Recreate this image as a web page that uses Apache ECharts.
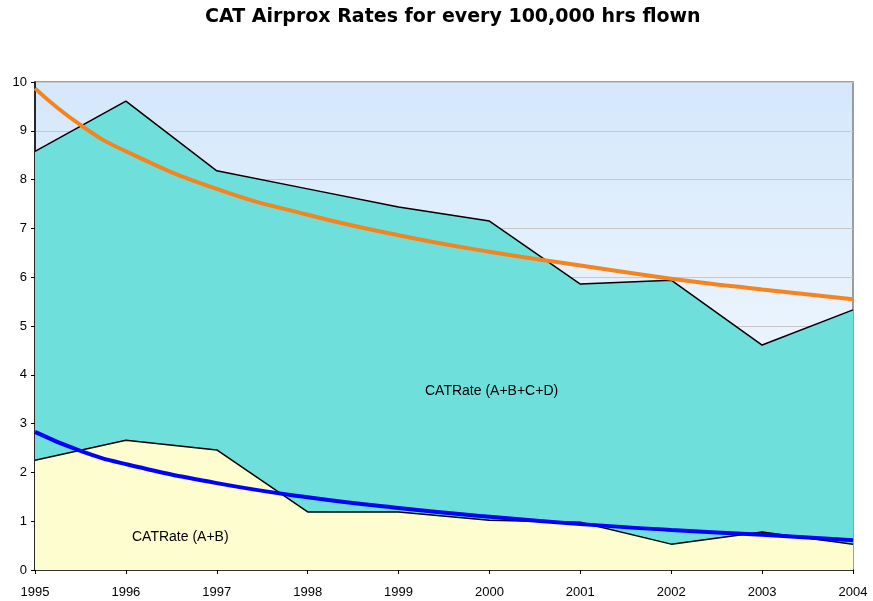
<!DOCTYPE html>
<html>
<head>
<meta charset="utf-8">
<script src="https://cdn.jsdelivr.net/npm/echarts@6/dist/echarts.min.js"></script>
<style>
  html, body { margin: 0; padding: 0; background: #fff; }
  #chart { width: 873px; height: 601px; }
</style>
</head>
<body>
<div id="chart"></div>
<script>
// data
var years = [1995, 1996, 1997, 1998, 1999, 2000, 2001, 2002, 2003, 2004];
var rateABCD = [8.58, 9.61, 8.18, 7.81, 7.44, 7.15, 5.86, 5.94, 4.61, 5.33];
var rateAB = [2.25, 2.66, 2.46, 1.19, 1.19, 1.02, 0.98, 0.53, 0.78, 0.53];
// trend lines, read at each year (plus the steep first half-year)
var trendYears = [1995, 1995.5, 1996, 1997, 1998, 1999, 2000, 2001, 2002, 2003, 2004];
var trendABCD = [9.87, 9.12, 8.58, 7.81, 7.28, 6.86, 6.52, 6.24, 5.97, 5.75, 5.55];
var trendAB = [2.83, 2.44, 2.17, 1.78, 1.49, 1.27, 1.09, 0.94, 0.82, 0.72, 0.61];
var yTicks = [0, 1, 2, 3, 4, 5, 6, 7, 8, 9, 10];

function pairs(xs, ys) {
    return xs.map(function (x, i) { return [x, ys[i]]; });
}

var myChart = echarts.init(document.getElementById('chart'));

option = {
    animation: false,
    textStyle: { fontFamily: 'Liberation Sans, Arial, sans-serif' },
    title: {
        text: 'CAT Airprox Rates for every 100,000 hrs flown',
        left: 200,
        top: 3,
        textStyle: { fontSize: 19, fontWeight: 'bold', color: '#000', fontFamily: 'DejaVu Sans' }
    },
    grid: {
        left: 35, right: 20, top: 82, bottom: 31,
        show: true,
        borderColor: '#808080',
        borderWidth: 1.5,
        backgroundColor: new echarts.graphic.LinearGradient(0, 0, 0, 1, [
            { offset: 0, color: '#d4e7fb' },
            { offset: 1, color: '#ffffff' }
        ])
    },
    xAxis: {
        type: 'value',
        min: 1995, max: 2004, interval: 1,
        axisLine: { lineStyle: { color: '#000', width: 1.5 } },
        axisTick: { show: true, length: 4, lineStyle: { color: '#000' } },
        axisLabel: { color: '#000', fontSize: 13, margin: 16, formatter: function (v) { return String(v); } },
        splitLine: { show: false }
    },
    yAxis: {
        type: 'value',
        min: yTicks[0], max: yTicks[yTicks.length - 1], interval: 1,
        axisLine: { show: true, lineStyle: { color: '#000', width: 1.5 } },
        axisTick: { show: true, length: 4, lineStyle: { color: '#000' } },
        axisLabel: { color: '#000', fontSize: 13, margin: 8 },
        splitLine: { show: true, lineStyle: { color: '#c8c8c8', width: 1 } }
    },
    series: [
        {
            name: 'CATRate (A+B+C+D)',
            type: 'line',
            data: pairs(years, rateABCD),
            symbol: 'none',
            lineStyle: { color: '#000', width: 1.5 },
            areaStyle: { color: '#6edfda', opacity: 1 },
            z: 2
        },
        {
            name: 'CATRate (A+B)',
            type: 'line',
            data: pairs(years, rateAB),
            symbol: 'none',
            lineStyle: { color: '#000', width: 1.5 },
            areaStyle: { color: '#fdfdd0', opacity: 1 },
            z: 3
        },
        {
            name: 'Trend (A+B+C+D)',
            type: 'line',
            data: pairs(trendYears, trendABCD),
            symbol: 'none',
            smooth: true,
            lineStyle: { color: '#f5841f', width: 4 },
            z: 4
        },
        {
            name: 'Trend (A+B)',
            type: 'line',
            data: pairs(trendYears, trendAB),
            symbol: 'none',
            smooth: true,
            lineStyle: { color: '#0000ff', width: 4 },
            z: 4
        }
    ],
    graphic: [
        {
            type: 'text', left: 425, top: 384, z: 10,
            style: { text: 'CATRate (A+B+C+D)', fill: '#000', font: '14px Liberation Sans, Arial, sans-serif' }
        },
        {
            type: 'text', left: 132, top: 530, z: 10,
            style: { text: 'CATRate (A+B)', fill: '#000', font: '14px Liberation Sans, Arial, sans-serif' }
        }
    ]
};

myChart.setOption(option, true);
</script>
</body>
</html>
